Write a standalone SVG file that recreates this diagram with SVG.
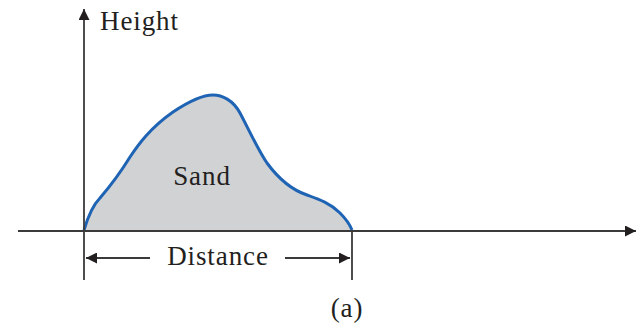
<svg xmlns="http://www.w3.org/2000/svg" width="637" height="331" viewBox="0 0 637 331">
<style>
.ax{stroke:#3a3a3a;stroke-width:1.8;fill:none}
.t{font-family:"Liberation Serif",serif;font-size:27px;letter-spacing:0.9px;fill:#231f20}
</style>
<defs>
<marker id="ah" viewBox="0 0 10 10" refX="10" refY="5" markerWidth="15" markerHeight="11" markerUnits="userSpaceOnUse" orient="auto-start-reverse">
<path d="M0,0 L10,5 L0,10 Z" fill="#231f20"/>
</marker>
</defs>
<rect width="637" height="331" fill="#fff"/>
<g id="sand">
<path d="M84,230 C87,220 93,205 100,198 C112,184 122,170 130,157 C138,145 150,128 173,112 C185,104 200,95 213,95 C222,95 233,100 240,113 C246,124 258,150 267,163 C278,178 292,190 307,195 C318,199 330,203 340,213 C346,219 350,225 352,230 Z" fill="#d1d2d4" stroke="none"/>
<path d="M84,230 C87,220 93,205 100,198 C112,184 122,170 130,157 C138,145 150,128 173,112 C185,104 200,95 213,95 C222,95 233,100 240,113 C246,124 258,150 267,163 C278,178 292,190 307,195 C318,199 330,203 340,213 C346,219 350,225 352,230" fill="none" stroke="#1e63b4" stroke-width="3"/>
<text class="t" x="202" y="185" text-anchor="middle">Sand</text>
</g>
<g id="connectors">
<line class="ax" x1="84" y1="280" x2="84" y2="9" marker-end="url(#ah)"/>
<line class="ax" x1="18" y1="231" x2="636" y2="231" marker-end="url(#ah)"/>
<line class="ax" x1="352" y1="231" x2="352" y2="280"/>
<line class="ax" x1="150" y1="258" x2="86" y2="258" marker-end="url(#ah)"/>
<line class="ax" x1="285" y1="258" x2="350" y2="258" marker-end="url(#ah)"/>
</g>
<g id="labels">
<text class="t" x="100" y="30">Height</text>
<text class="t" x="218" y="265" text-anchor="middle">Distance</text>
<text class="t" x="347" y="317" text-anchor="middle">(a)</text>
</g>
</svg>
